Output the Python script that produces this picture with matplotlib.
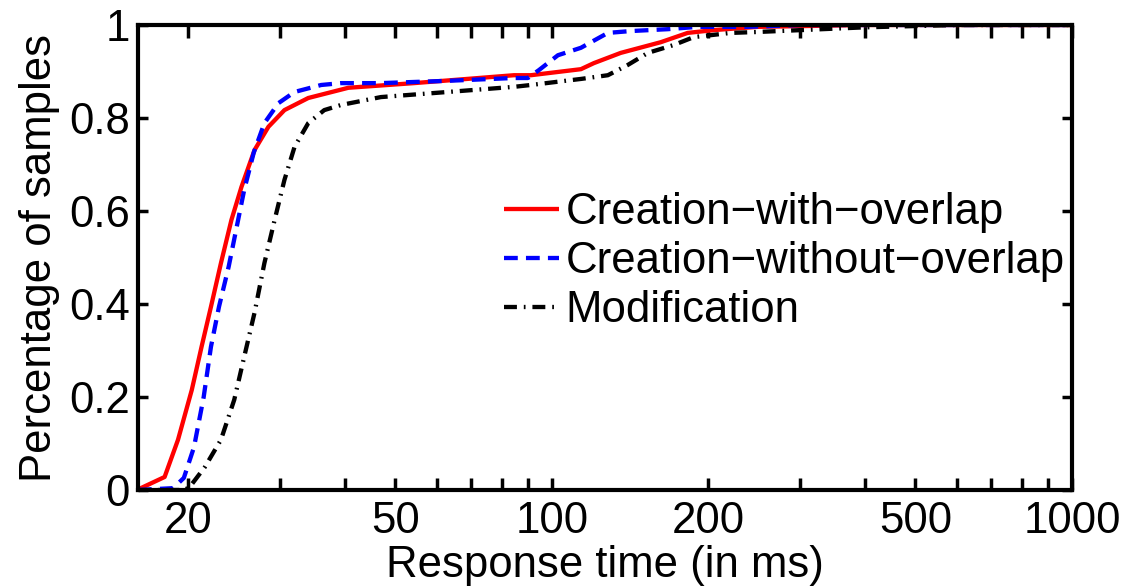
import matplotlib
matplotlib.use("Agg")
import matplotlib.pyplot as plt
from matplotlib.ticker import FixedLocator, LogLocator, NullFormatter, FixedFormatter

plt.rcParams['font.family'] = ['Liberation Sans', 'DejaVu Sans']

# Creation-with-overlap
red_x = [16.0, 16.2, 18.0, 19.1, 20.3, 21.2, 22.1, 23.1, 24.2, 25.3, 26.8, 28.5, 30.6, 34.0,
         40.6, 54.3, 84.5, 91.1, 113.7, 120.4, 135.6, 161.9, 182.4, 204.6, 248.5, 400, 1000]
red_y = [0.0, 0.004, 0.028, 0.108, 0.215, 0.308, 0.394, 0.488, 0.581, 0.652, 0.731, 0.781, 0.817, 0.843,
         0.865, 0.875, 0.892, 0.892, 0.905, 0.918, 0.940, 0.963, 0.983, 0.989, 0.996, 1.0, 1.0]

# Creation-without-overlap
blue_x = [16.0, 18.7, 19.6, 20.5, 21.4, 22.1, 22.9, 23.9, 24.7, 25.6, 26.7, 28.0, 29.8, 32.0, 36.0,
          39.3, 46.9, 63.1, 84.5, 89.9, 94.4, 102.7, 113.7, 128.1, 141.8, 167, 190.6, 237.8, 300, 1000]
blue_y = [0.0, 0.004, 0.026, 0.092, 0.2, 0.308, 0.394, 0.48, 0.559, 0.645, 0.725, 0.789, 0.832, 0.856, 0.871,
          0.875, 0.875, 0.880, 0.886, 0.886, 0.903, 0.935, 0.951, 0.983, 0.987, 0.991, 0.996, 0.996, 1.0, 1.0]

# Modification
black_x = [16.0, 19.6, 20.1, 21.5, 23.1, 24.5, 25.6, 26.8, 28.0, 29.3, 30.6, 32.0, 34.0, 36.5, 39.3,
           46.9, 63.1, 84.5, 91.1, 113.7, 128.1, 139.9, 152.9, 171.5, 187.4, 220.6, 248.5, 400, 600, 1000]
black_y = [0.0, 0.0, 0.006, 0.049, 0.108, 0.194, 0.286, 0.381, 0.488, 0.581, 0.667, 0.738, 0.789, 0.817, 0.828,
           0.845, 0.856, 0.867, 0.871, 0.884, 0.892, 0.914, 0.940, 0.957, 0.974, 0.983, 0.985, 0.995, 1.0, 1.0]

labels = ["Creation\u2212with\u2212overlap", "Creation\u2212without\u2212overlap", "Modification"]
x_ticks = [20, 50, 100, 200, 500, 1000]
x_ticklabels = ["20", "50", "100", "200", "500", "1000"]
y_ticks = [0, 0.2, 0.4, 0.6, 0.8, 1]
y_ticklabels = ["0", "0.2", "0.4", "0.6", "0.8", "1"]

fig = plt.figure(figsize=(11.27, 5.86), dpi=100)
ax = fig.add_axes([138/1127, 1 - 490/586, (1072-138)/1127, (490-25)/586])

lw = 3.1
ax.plot(red_x, red_y, color='#ff0000', lw=lw, linestyle='-', label=labels[0], solid_capstyle='butt')
ax.plot(blue_x, blue_y, color='#0000ff', lw=lw, linestyle=(0, (3.2, 1.9)), label=labels[1])
ax.plot(black_x, black_y, color='black', lw=lw, linestyle=(0, (3.0, 1.6, 0.4, 1.6)), label=labels[2])

ax.set_xscale('log')
ax.set_xlim(16, 1000)
ax.set_ylim(0, 1)

ax.xaxis.set_major_locator(FixedLocator(x_ticks))
ax.xaxis.set_major_formatter(FixedFormatter(x_ticklabels))
ax.xaxis.set_minor_locator(LogLocator(base=10, subs=list(range(2, 10)), numticks=20))
ax.xaxis.set_minor_formatter(NullFormatter())
ax.set_yticks(y_ticks)
ax.set_yticklabels(y_ticklabels)

fs = 31.5
ax.tick_params(axis='both', which='both', direction='in', top=True, right=True,
               width=2.5, labelsize=fs)
ax.tick_params(axis='x', which='both', length=9, pad=8)
ax.tick_params(axis='y', which='both', length=7, pad=6)
for s in ax.spines.values():
    s.set_linewidth(3)

ax.set_xlabel("Response time (in ms)", fontsize=fs, labelpad=2)
ax.set_ylabel("Percentage of samples", fontsize=fs, labelpad=6)

leg = ax.legend(loc='upper left', bbox_to_anchor=(0.392, 0.64), frameon=False, fontsize=fs,
                handlelength=1.25, handletextpad=0.16, labelspacing=0.18, borderpad=0, borderaxespad=0)

fig.savefig("out.png", dpi=100)
